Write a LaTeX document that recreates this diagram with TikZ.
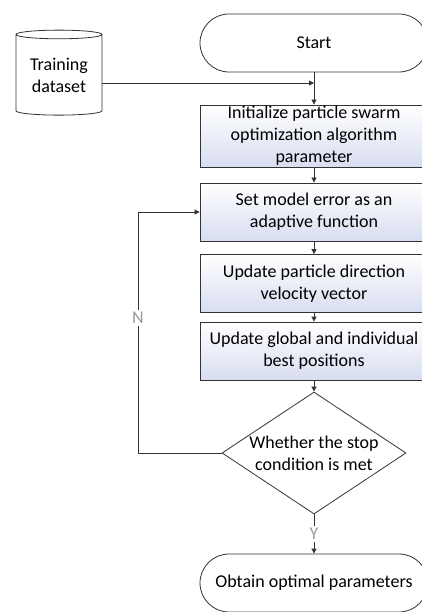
\documentclass[tikz,border=0pt]{standalone}
\usepackage{fontspec}
\setmainfont{Carlito}
\usetikzlibrary{arrows.meta,shapes.geometric}
\definecolor{boxblue}{HTML}{D8DDF1}
\definecolor{linegray}{HTML}{333333}
\definecolor{labelgray}{HTML}{9A9A9A}
\begin{document}
\begin{tikzpicture}[
    x={(1pt,0pt)}, y={(0pt,-1pt)},
    line join=round,
    font=\fontsize{18}{22}\selectfont,
    flow/.style={draw=linegray, line width=0.8pt, -{Triangle[length=5pt,width=5pt]}},
    proc/.style={draw=linegray, line width=0.8pt, top color=white, bottom color=boxblue,
        minimum width=228pt, minimum height=58pt, inner sep=0pt, align=center},
    term/.style={draw=linegray, line width=0.8pt, rounded corners=29pt,
        minimum width=228pt, minimum height=58pt, inner sep=0pt, align=center},
    check/.style={draw=linegray, line width=0.8pt, shape=diamond, aspect=1.5,
        minimum width=184pt, minimum height=122pt, inner sep=0pt, align=center},
    store/.style={draw=linegray, line width=0.8pt, shape=cylinder, shape border rotate=90,
        aspect=0.15, minimum width=86pt, minimum height=85pt, inner sep=0pt, align=center},
    lbl/.style={fill=white, text=labelgray, inner sep=2pt}
]
\clip (0,0) rectangle (422,612);

\node[term] (start) at (314,43) {Start};
\node[store] (data) at (59,75) {Training\\dataset};
\node[proc, minimum height=62pt] (init) at (314,136) {Initialize particle swarm\\optimization algorithm\\parameter};
\node[proc] (fit) at (314,212) {Set model error as an\\adaptive function};
\node[proc] (vel) at (314,283.5) {Update particle direction\\velocity vector};
\node[proc] (best) at (314,351) {Update global and individual\\best positions};
\node[check] (stop) at (314,453) {Whether the stop\\condition is met};
\node[term] (done) at (314,583) {Obtain optimal parameters};

\coordinate (join) at (314,83);
\coordinate (loop) at (138,453);

\draw[flow] (join -| data.east) -- (join);
\draw[flow] (start) -- (init);
\draw[flow] (init) -- (fit);
\draw[flow] (fit) -- (vel);
\draw[flow] (vel) -- (best);
\draw[flow] (best) -- (stop);
\draw[flow] (stop) -- node[lbl] {Y} (done);
\draw[flow] (stop.west) -- (loop) |- node[lbl, pos=0.28] {N} (fit.west);
\end{tikzpicture}
\end{document}
